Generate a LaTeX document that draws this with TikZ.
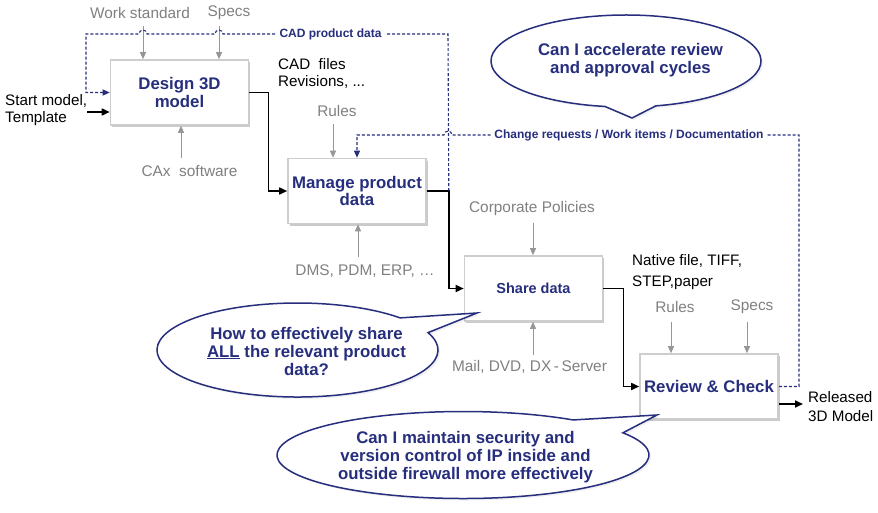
\documentclass[tikz,border=0pt]{standalone}
\usepackage{fontspec}
\setmainfont{Liberation Sans}
\usetikzlibrary{arrows.meta,shadows,calc}

\definecolor{navy}{RGB}{38,46,125}
\definecolor{labelgray}{RGB}{128,128,128}
\definecolor{arrowgray}{RGB}{150,150,150}
\definecolor{boxline}{RGB}{205,205,205}

\tikzset{
  procbox/.style={draw=boxline, line width=1.6pt, fill=white,
    minimum width=138pt, minimum height=65pt, inner sep=0pt, align=center,
    text=navy, font=\fontsize{16.8}{17.5}\selectfont\bfseries,
    drop shadow={shadow xshift=1.5pt, shadow yshift=-2pt, opacity=0.35, fill=black!60}},
  graylbl/.style={text=labelgray, font=\fontsize{15.4}{18}\selectfont, inner sep=1pt},
  blacklbl/.style={text=black, inner sep=0pt, align=left, anchor=west},
  garrow/.style={draw=arrowgray, line width=1pt, -{Triangle[length=7pt,width=6pt]}},
  flow/.style={draw=black, line width=1.6pt, -{Triangle[length=8pt,width=7pt]}},
  fb/.style={draw=navy, line width=1.1pt, dash pattern=on 3pt off 2pt,
    -{Triangle[length=7pt,width=6pt]}},
  fblbl/.style={fill=white, text=navy, font=\fontsize{12}{14}\selectfont\bfseries, inner sep=3pt},
  bubble/.style={draw=navy, line width=1.5pt, fill=white, line join=miter,
    drop shadow={shadow xshift=2pt, shadow yshift=-2pt, opacity=0.12}},
  bubbletext/.style={text=navy, align=center, font=\fontsize{16.8}{18}\selectfont\bfseries}
}

\begin{document}
\begin{tikzpicture}[x=1pt,y=-1pt]
\useasboundingbox (0,0) rectangle (878,512);

% process steps
\node[procbox] (d) at (179.5,92.5) {Design 3D\\model};
\node[procbox] (m) at (357,191) {Manage product\\data};
\node[procbox, font=\fontsize{14.5}{16}\selectfont\bfseries] (s) at (533.5,288.5) {Share data};
\node[procbox] (r) at (709,386.5) {Review \& Check};

% controls and mechanisms
\node[graylbl] (ws)   at (140,13)    {Work standard};
\node[graylbl] (sp1)  at (229,13)    {Specs};
\node[graylbl] (cax)  at (189.5,171) {CAx\ \ software};
\node[graylbl] (ru1)  at (337,111)   {Rules};
\node[graylbl] (dms)  at (365,271)   {DMS, PDM, ERP, …};
\node[graylbl] (cp)   at (532,209)   {Corporate Policies};
\node[graylbl] (mail) at (529.5,367) {Mail, DVD, DX\,-\,Server};
\node[graylbl] (ru2)  at (675,307)   {Rules};
\node[graylbl] (sp2)  at (752,307)   {Specs};

% inputs and outputs
\node[blacklbl, font=\fontsize{15.2}{16.5}\selectfont] (start) at (5,110) {Start model,\\Template};
\node[blacklbl, font=\fontsize{15.2}{17}\selectfont] (cadf) at (278,73.5) {CAD\ \ files\\Revisions, ...};
\node[blacklbl, font=\fontsize{15.2}{21}\selectfont] (nat) at (632,272.5) {Native file, TIFF,\\STEP,paper};
\node[blacklbl, font=\fontsize{15.2}{19}\selectfont] (rel) at (808,406.5) {Released\\3D Model};

% gray arrows into the steps
\coordinate (ws-a)   at (143,26);
\coordinate (sp1-a)  at (219,26);
\coordinate (cax-a)  at (181,158);
\coordinate (ru1-a)  at (333,124);
\coordinate (dms-a)  at (358,257);
\coordinate (cp-a)   at (533,223);
\coordinate (mail-a) at (533,355);
\coordinate (ru2-a)  at (671,322);
\coordinate (sp2-a)  at (747,322);
\draw[garrow] (ws-a) -- (ws-a |- d.north);
\draw[garrow] (sp1-a) -- (sp1-a |- d.north);
\draw[garrow] (cax-a) -- (cax-a |- d.south);
\draw[garrow] (ru1-a) -- (ru1-a |- m.north);
\draw[garrow] (dms-a) -- (dms-a |- m.south);
\draw[garrow] (cp-a) -- (cp-a |- s.north);
\draw[garrow] (mail-a) -- (mail-a |- s.south);
\draw[garrow] (ru2-a) -- (ru2-a |- r.north);
\draw[garrow] (sp2-a) -- (sp2-a |- r.north);

% main flow
\coordinate (d-in) at ($(d.west)+(0,19.5)$);
\draw[flow] (start.east |- d-in) -- (d-in);
\draw[flow] (d.east) -- ++(19,0) |- (m.west);
\draw[flow] (m.east) -- ++(22,0) coordinate (mj) |- (s.west);
\draw[flow] (s.east) -- ++(20,0) |- (r.west);
\coordinate (r-out) at ($(r.east)+(0,17.5)$);
\draw[flow, shorten >=5pt] (r-out) -- (rel.west |- r-out);

% feedback loops
\draw[fb] (mj) -- (448,34) -- (223,34) arc[start angle=0, end angle=-180, radius=4]
  -- (147,34) arc[start angle=0, end angle=-180, radius=4] -- (86,34) |- (d.west);
\node[fblbl] (cadlbl) at (330.5,34) {CAD product data};

\draw[fb] (r.east) -| (799,135) -- (452,135) arc[start angle=0, end angle=-180, radius=4]
  -- (357,135) -- (m.north);
\node[fblbl] (crlbl) at (629,135) {Change requests / Work items / Documentation};

% speech bubbles
\coordinate (c1) at (626,61);
\draw[bubble] (632,118) -- ($(c1)+(77.2:135 and 46)$)
  arc[start angle=77.2, end angle=-261, x radius=135, y radius=46] -- cycle;
\node[bubbletext] (q1) at (630.5,60) {Can I accelerate review\\and approval cycles};

\coordinate (c2) at (297.5,350);
\draw[bubble] (477,313) -- ($(c2)+(-21.7:140.5 and 47)$)
  arc[start angle=-21.7, end angle=316.9, x radius=140.5, y radius=47] -- cycle;
\node[bubbletext] (q2) at (306.5,351) {How to effectively share\\\underline{ALL} the relevant product\\data?};

\coordinate (c3) at (463,455);
\draw[bubble] (657,415) -- ($(c3)+(-30.7:186 and 43.5)$)
  arc[start angle=-30.7, end angle=306.3, x radius=186, y radius=43.5] -- cycle;
\node[bubbletext] (q3) at (465.5,457) {Can I maintain security and\\version control of IP inside and\\outside firewall more effectively};
\end{tikzpicture}
\end{document}
